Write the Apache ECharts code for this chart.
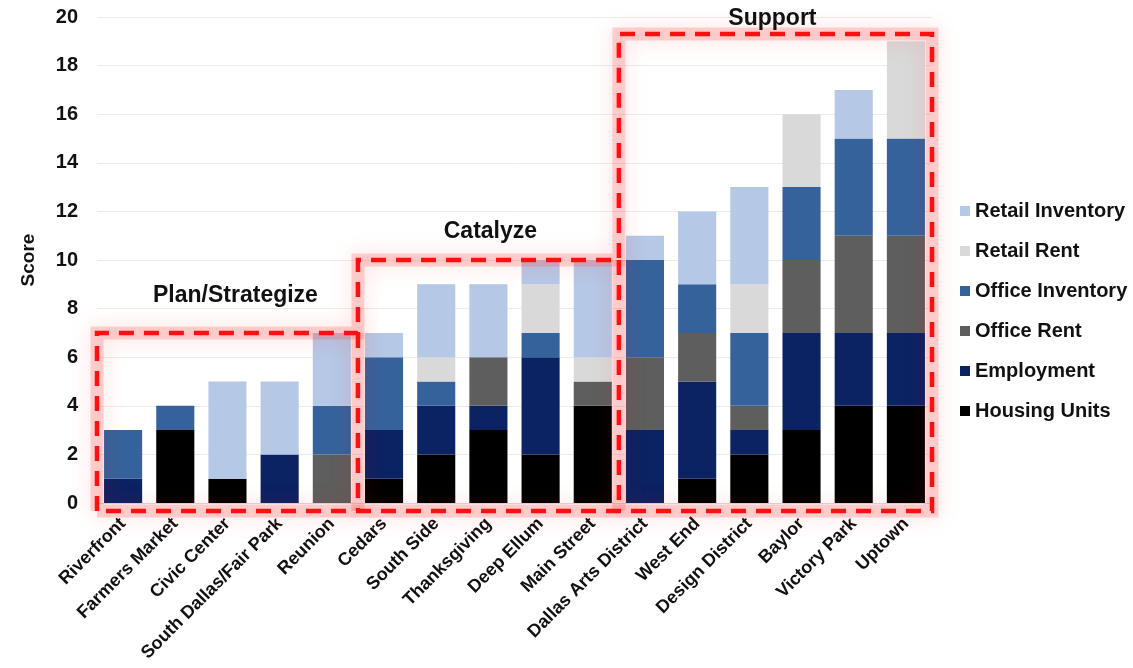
<!DOCTYPE html>
<html>
<head>
<meta charset="utf-8">
<title>Score by District</title>
<script src="https://cdn.jsdelivr.net/npm/echarts@6/dist/echarts.min.js"></script>
<style>
  html, body { margin: 0; padding: 0; background: #ffffff; }
  #chart { width: 1133px; height: 668px; }
</style>
</head>
<body>
<div id="chart"></div>
<script>
// Districts along the x axis
const districts = [
  'Riverfront', 'Farmers Market', 'Civic Center', 'South Dallas/Fair Park', 'Reunion',
  'Cedars', 'South Side', 'Thanksgiving', 'Deep Ellum', 'Main Street',
  'Dallas Arts District', 'West End', 'Design District', 'Baylor', 'Victory Park', 'Uptown'
];

// Score components, stacked bottom to top
const housingUnits    = [0, 3, 1, 0, 0, 1, 2, 3, 2, 4, 0, 1, 2, 3, 4, 4];
const employment      = [1, 0, 0, 2, 0, 2, 2, 1, 4, 0, 3, 4, 1, 4, 3, 3];
const officeRent      = [0, 0, 0, 0, 2, 0, 0, 2, 0, 1, 3, 2, 1, 3, 4, 4];
const officeInventory = [2, 1, 0, 0, 2, 3, 1, 0, 1, 0, 4, 2, 3, 3, 4, 4];
const retailRent      = [0, 0, 0, 0, 0, 0, 1, 0, 2, 1, 0, 0, 2, 3, 0, 4];
const retailInventory = [0, 0, 4, 3, 3, 1, 3, 3, 1, 4, 1, 3, 4, 0, 2, 0];

// Y axis ticks
const yMin = 0, yMax = 20, yStep = 2;

// Strategy groups: first and last district index, and the score level the frame sits at
const groupNames = ['Plan/Strategize', 'Catalyze', 'Support'];
const groupFirst = [0, 5, 10];
const groupLast  = [4, 9, 15];
const groupLevel = [7, 10, 19.3];

const seriesDefs = [
  { name: 'Housing Units',    data: housingUnits,    color: '#000000' },
  { name: 'Employment',       data: employment,      color: '#0b2263' },
  { name: 'Office Rent',      data: officeRent,      color: '#5e5e5e' },
  { name: 'Office Inventory', data: officeInventory, color: '#36629b' },
  { name: 'Retail Rent',      data: retailRent,      color: '#d9d9d9' },
  { name: 'Retail Inventory', data: retailInventory, color: '#b5c8e6' }
];

const FONT = '"Liberation Sans", Arial, sans-serif';

const chart = echarts.init(document.getElementById('chart'), null, { renderer: 'canvas' });

chart.setOption({
  backgroundColor: '#ffffff',
  animation: false,
  grid: { left: 97, right: 201, top: 17, bottom: 165, containLabel: false },
  legend: {
    orient: 'vertical',
    left: 955,
    top: 196,
    itemWidth: 10,
    itemHeight: 10,
    itemGap: 20,
    icon: 'rect',
    data: seriesDefs.map(s => s.name).reverse(),
    textStyle: { fontFamily: FONT, fontWeight: 'bold', fontSize: 20, color: '#111', lineHeight: 20 }
  },
  xAxis: {
    type: 'category',
    data: districts,
    axisTick: { show: false },
    axisLine: { show: true, lineStyle: { color: '#d9d9d9' } },
    axisLabel: {
      rotate: 45,
      interval: 0,
      margin: 18,
      fontFamily: FONT,
      fontWeight: 'bold',
      fontSize: 18,
      color: '#111'
    }
  },
  yAxis: {
    type: 'value',
    min: yMin,
    max: yMax,
    interval: yStep,
    name: 'Score',
    nameLocation: 'middle',
    nameGap: 59,
    nameRotate: 90,
    nameTextStyle: { fontFamily: FONT, fontWeight: 'bold', fontSize: 19, color: '#111' },
    axisLine: { show: false },
    axisTick: { show: false },
    axisLabel: { margin: 19, fontFamily: FONT, fontWeight: 'bold', fontSize: 20, color: '#111' },
    splitLine: { lineStyle: { color: '#ececec', width: 1 } }
  },
  series: seriesDefs.map(s => ({
    name: s.name,
    type: 'bar',
    stack: 'score',
    data: s.data,
    barWidth: '73%',
    itemStyle: { color: s.color }
  }))
});

// Dashed red frames around the three strategy groups, placed via the axes
function drawFrames() {
  const px = (i, v) => chart.convertToPixel({ gridIndex: 0 }, [i, v]);
  const band = px(1, 0)[0] - px(0, 0)[0];
  const edge = i => px(i, 0)[0] - band / 2;
  const yBase = px(0, 0)[1] + 8;
  const lefts = groupFirst.map(i => edge(i));
  const rights = groupLast.map(i => edge(i + 1));
  const tops = groupLevel.map(v => px(0, v)[1]);

  const outline = [
    [lefts[0], yBase], [lefts[0], tops[0]], [rights[0], tops[0]], [rights[0], tops[1]],
    [rights[1], tops[1]], [rights[1], tops[2]], [rights[2], tops[2]], [rights[2], yBase],
    [lefts[0], yBase]
  ];
  const dividers = [
    [[rights[0], tops[0]], [rights[0], yBase]],
    [[rights[1], tops[1]], [rights[1], yBase]]
  ];
  const paths = [outline].concat(dividers);

  const glow = paths.map(pts => ({
    type: 'polyline',
    silent: true,
    z: 90,
    shape: { points: pts },
    style: {
      fill: null,
      stroke: 'rgba(255, 80, 80, 0.24)',
      lineWidth: 13,
      lineJoin: 'miter',
      shadowBlur: 22,
      shadowColor: 'rgba(255, 0, 0, 0.55)'
    }
  }));
  const dashes = paths.map(pts => ({
    type: 'polyline',
    silent: true,
    z: 100,
    shape: { points: pts },
    style: {
      fill: null,
      stroke: '#ff1010',
      lineWidth: 4.5,
      lineDash: [15, 10],
      lineJoin: 'miter'
    }
  }));

  const lift = [37, 28, 15];
  const nudge = [8, 2, -3];
  const titles = groupNames.map((name, g) => ({
    type: 'text',
    silent: true,
    z: 110,
    x: (lefts[g] + rights[g]) / 2 + nudge[g],
    y: tops[g] - lift[g],
    style: {
      text: name,
      fontFamily: FONT,
      fontWeight: 'bold',
      fontSize: 23,
      fill: '#111',
      align: 'center',
      verticalAlign: 'middle'
    }
  }));

  chart.setOption({ graphic: { elements: glow.concat(dashes, titles) } });
}

drawFrames();
</script>
</body>
</html>
